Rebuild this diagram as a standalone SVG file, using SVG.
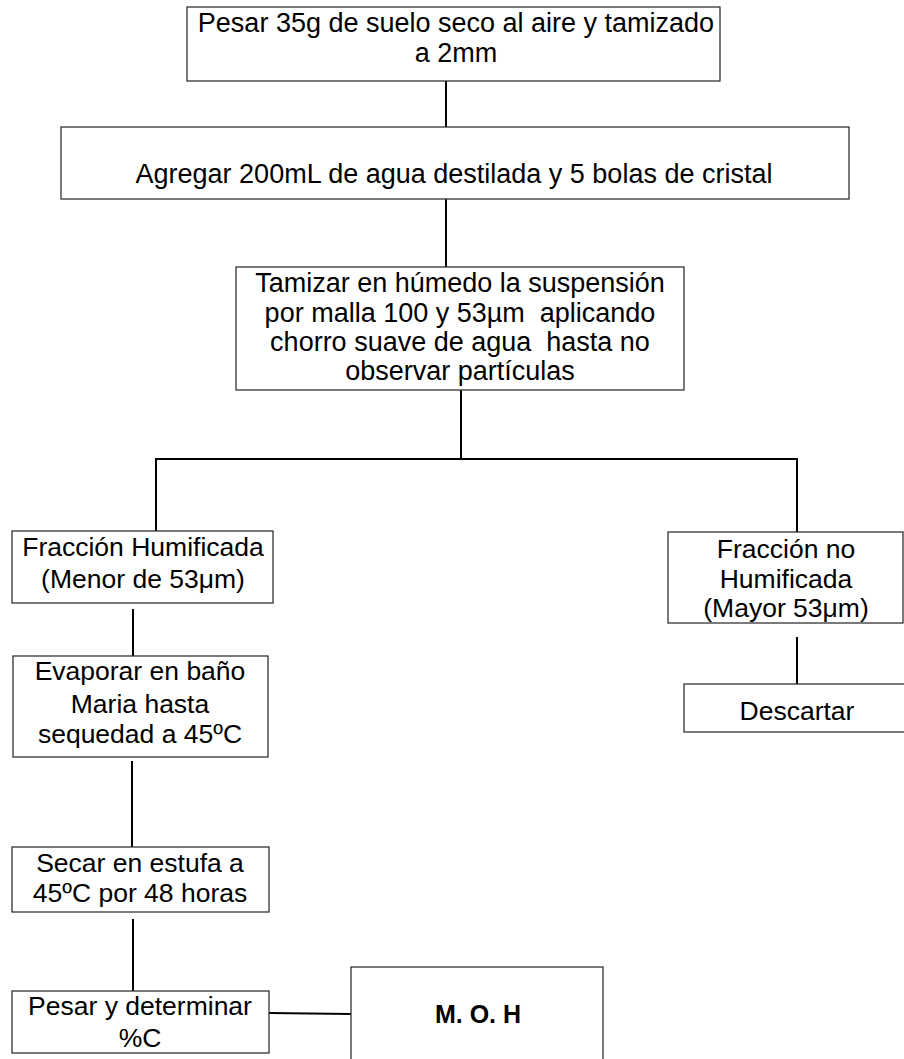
<svg xmlns="http://www.w3.org/2000/svg" width="904" height="1059" viewBox="0 0 904 1059">
  <style>
    .box { fill: #ffffff; stroke: #333333; stroke-width: 1.3; }
    .lbl { font-family: "Liberation Sans", Arial, sans-serif; font-size: 27px; fill: #000000; text-anchor: middle; white-space: pre; }
    .sm { font-size: 26.5px; }
    .bold { font-weight: bold; font-size: 25px; }
    .conn line { stroke: #000000; stroke-width: 2; }
  </style>
  <rect width="904" height="1059" fill="#ffffff"/>

  <!-- connectors -->
  <g id="connectors" class="conn">
    <line x1="446" y1="81" x2="446" y2="127"/>
    <line x1="446" y1="199" x2="446" y2="267"/>
    <line x1="461" y1="390" x2="461" y2="459"/>
    <line x1="155" y1="459" x2="798" y2="459"/>
    <line x1="156" y1="459" x2="156" y2="531"/>
    <line x1="797" y1="459" x2="797" y2="532"/>
    <line x1="133" y1="609" x2="133" y2="657"/>
    <line x1="132" y1="761" x2="132" y2="847"/>
    <line x1="797" y1="637" x2="797" y2="684"/>
    <line x1="133" y1="919" x2="133" y2="991"/>
    <line x1="269" y1="1013" x2="351" y2="1014"/>
  </g>

  <g id="pesar-suelo">
    <rect class="box" x="187" y="7" width="533" height="74"/>
    <text class="lbl" x="456" y="32">Pesar 35g de suelo seco al aire y tamizado</text>
    <text class="lbl" x="456" y="62">a 2mm</text>
  </g>

  <g id="agregar-agua">
    <rect class="box" x="61" y="127" width="788" height="72"/>
    <text class="lbl" x="454" y="183">Agregar 200mL de agua destilada y 5 bolas de cristal</text>
  </g>

  <g id="tamizar">
    <rect class="box" x="236" y="267" width="448" height="123"/>
    <text class="lbl" x="460" y="292">Tamizar en húmedo la suspensión</text>
    <text class="lbl" x="460" y="322">por malla 100 y 53µm  aplicando</text>
    <text class="lbl" x="460" y="351">chorro suave de agua  hasta no</text>
    <text class="lbl" x="460" y="380">observar partículas</text>
  </g>

  <g id="fraccion-humificada">
    <rect class="box" x="12" y="531" width="261" height="72"/>
    <text class="lbl sm" x="143" y="556">Fracción Humificada</text>
    <text class="lbl sm" x="143" y="588">(Menor de 53μm)</text>
  </g>

  <g id="fraccion-no-humificada">
    <rect class="box" x="668" y="532" width="235" height="91"/>
    <text class="lbl sm" x="786" y="558">Fracción no</text>
    <text class="lbl sm" x="786" y="588">Humificada</text>
    <text class="lbl sm" x="786" y="617">(Mayor 53μm)</text>
  </g>

  <g id="descartar">
    <rect class="box" x="684" y="684" width="240" height="48"/>
    <text class="lbl sm" x="797" y="720">Descartar</text>
  </g>

  <g id="evaporar">
    <rect class="box" x="13" y="656" width="255" height="101"/>
    <text class="lbl sm" x="140" y="680">Evaporar en baño</text>
    <text class="lbl sm" x="140" y="713">Maria hasta</text>
    <text class="lbl sm" x="140" y="743">sequedad a 45ºC</text>
  </g>

  <g id="secar">
    <rect class="box" x="12" y="847" width="257" height="65"/>
    <text class="lbl sm" x="140" y="872">Secar en estufa a</text>
    <text class="lbl sm" x="140" y="902">45ºC por 48 horas</text>
  </g>

  <g id="pesar-carbono">
    <rect class="box" x="12" y="991" width="257" height="62"/>
    <text class="lbl sm" x="140" y="1015">Pesar y determinar</text>
    <text class="lbl sm" x="140" y="1047">%C</text>
  </g>

  <g id="moh">
    <rect class="box" x="351" y="967" width="252" height="110"/>
    <text class="lbl bold" x="478" y="1023">M. O. H</text>
  </g>
</svg>
